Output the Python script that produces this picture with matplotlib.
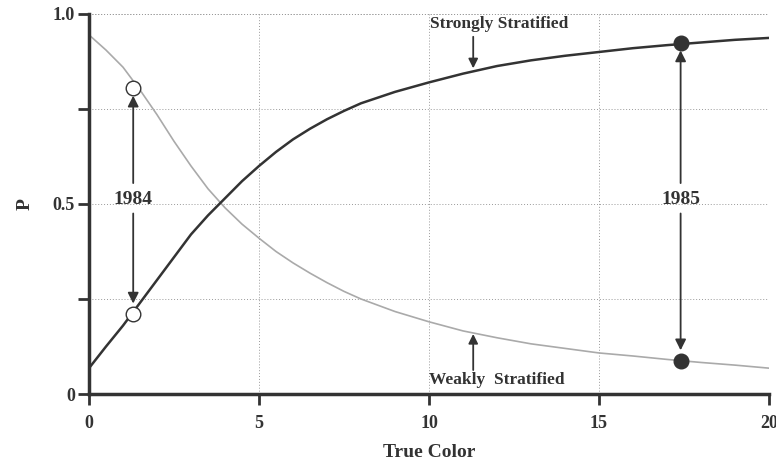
import numpy as np
import matplotlib.pyplot as plt

# values
true_color = [0, 0.5, 1, 1.5, 2, 2.5, 3, 3.5, 4, 4.5, 5, 5.5, 6, 6.5, 7, 7.5, 8,
              9, 10, 11, 12, 13, 14, 15, 16, 17, 18, 19, 20]
strongly = [0.068, 0.125, 0.18, 0.24, 0.30, 0.36, 0.42, 0.47, 0.515, 0.56, 0.60,
            0.637, 0.67, 0.698, 0.723, 0.745, 0.765,
            0.795, 0.82, 0.843, 0.863, 0.878, 0.89, 0.90, 0.91, 0.918, 0.925, 0.932, 0.937]
weakly = [0.945, 0.905, 0.86, 0.80, 0.735, 0.665, 0.60, 0.54, 0.49, 0.447, 0.41,
          0.375, 0.345, 0.318, 0.293, 0.27, 0.25,
          0.217, 0.19, 0.166, 0.148, 0.132, 0.12, 0.108, 0.10, 0.091, 0.083, 0.076, 0.068]

years = ["1984", "1985"]
year_x = [1.3, 17.4]
year_hi = [0.805, 0.924]
year_lo = [0.21, 0.087]
year_filled = [False, True]

x_ticks = [0, 5, 10, 15, 20]
y_ticks = [0, 0.5, 1.0]
y_tick_labels = ["0", "0.5", "1.0"]

dark = "#333333"
light = "#aaaaaa"
serif = "Liberation Serif"

fig = plt.figure(figsize=(7.76, 4.66), dpi=100)
ax = fig.add_axes([0.1147, 0.1545, 0.8763, 0.8155])

ax.plot(true_color, weakly, color=light, lw=1.2, zorder=2)
ax.plot(true_color, strongly, color=dark, lw=1.8, zorder=3)

for yr, x, hi, lo, filled in zip(years, year_x, year_hi, year_lo, year_filled):
    face = dark if filled else "white"
    ax.plot([x, x], [hi, lo], "o", ms=10.5, mfc=face, mec=dark, mew=1.0, zorder=5,
            clip_on=False)
    ax.text(x, 0.513, yr, ha="center", va="center", fontsize=14, fontweight="bold",
            family=serif, color=dark)
    arrow = dict(arrowstyle="-|>", color=dark, lw=1.3, mutation_scale=16, shrinkA=0, shrinkB=0)
    ax.annotate("", xy=(x, hi - 0.02), xytext=(x, 0.555), arrowprops=arrow)
    ax.annotate("", xy=(x, lo + 0.028), xytext=(x, 0.475), arrowprops=arrow)

# curve labels
lab_arrow = dict(arrowstyle="-|>", color=dark, lw=1.3, mutation_scale=14, shrinkA=0, shrinkB=0)
ax.text(12.05, 0.974, "Strongly Stratified", ha="center", va="center", fontsize=12.5,
        fontweight="bold", family=serif, color=dark)
ax.annotate("", xy=(11.3, 0.857), xytext=(11.3, 0.94), arrowprops=lab_arrow)
ax.text(12.0, 0.037, "Weakly  Stratified", ha="center", va="center", fontsize=12.5,
        fontweight="bold", family=serif, color=dark)
ax.annotate("", xy=(11.3, 0.158), xytext=(11.3, 0.063), arrowprops=lab_arrow)

ax.set_xlim(0, 20)
ax.set_ylim(0, 1.0)
ax.set_xticks(x_ticks)
ax.set_xticklabels([str(t) for t in x_ticks])
ax.set_yticks(y_ticks)
ax.set_yticklabels(y_tick_labels)
ax.set_yticks([0.25, 0.75], minor=True)

for lbl in ax.get_xticklabels() + ax.get_yticklabels():
    lbl.set_family(serif)
    lbl.set_fontweight("bold")
    lbl.set_fontsize(13)
    lbl.set_color(dark)

ax.tick_params(axis="both", which="both", direction="out", length=8, width=2, color=dark, pad=2)
ax.tick_params(axis="x", pad=7)

ax.grid(True, which="both", linestyle=(0, (1, 2)), color="#999999", lw=0.7)
ax.set_axisbelow(True)

for s in ["top", "right"]:
    ax.spines[s].set_visible(False)
for s in ["left", "bottom"]:
    ax.spines[s].set_linewidth(2.5)
    ax.spines[s].set_color(dark)

# dotted frame on top and right
ax.axhline(1.0, linestyle=(0, (1, 2)), color="#999999", lw=0.7, zorder=1)
ax.axvline(20, linestyle=(0, (1, 2)), color="#999999", lw=0.7, zorder=1)

ax.set_xlabel("True Color", family=serif, fontweight="bold", fontsize=14, color=dark, labelpad=9)
ax.set_ylabel("P", family=serif, fontweight="bold", fontsize=14, color=dark, labelpad=14)

fig.savefig("out.png", dpi=100)
